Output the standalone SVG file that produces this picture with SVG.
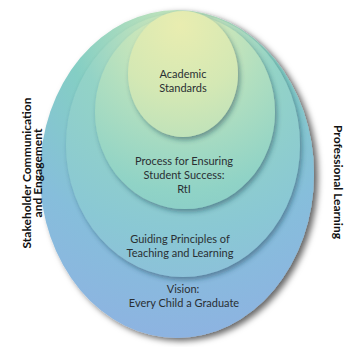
<svg xmlns="http://www.w3.org/2000/svg" width="353" height="347" viewBox="0 0 353 347">
  <defs>
    <radialGradient id="gVision" gradientUnits="userSpaceOnUse" cx="178" cy="40" r="310" fx="178" fy="30">
      <stop offset="0" stop-color="#c9e6b8"/>
      <stop offset="0.35" stop-color="#84cec4"/>
      <stop offset="0.65" stop-color="#86bedb"/>
      <stop offset="1" stop-color="#8eb2e2"/>
    </radialGradient>
    <radialGradient id="gGuiding" gradientUnits="userSpaceOnUse" cx="180" cy="35" r="250" fx="180" fy="28">
      <stop offset="0" stop-color="#d4e9b6"/>
      <stop offset="0.4" stop-color="#93d3c6"/>
      <stop offset="0.8" stop-color="#8ac8d4"/>
      <stop offset="1" stop-color="#8cc0da"/>
    </radialGradient>
    <radialGradient id="gProcess" gradientUnits="userSpaceOnUse" cx="182" cy="35" r="185" fx="182" fy="28">
      <stop offset="0" stop-color="#e0ecb4"/>
      <stop offset="0.45" stop-color="#b2dfbf"/>
      <stop offset="0.85" stop-color="#90d3c6"/>
      <stop offset="1" stop-color="#8acdc8"/>
    </radialGradient>
    <radialGradient id="gAcademic" gradientUnits="userSpaceOnUse" cx="180" cy="30" r="110" fx="180" fy="25">
      <stop offset="0" stop-color="#e9edb0"/>
      <stop offset="0.6" stop-color="#d4e8b4"/>
      <stop offset="1" stop-color="#bfe2ba"/>
    </radialGradient>
    <filter id="shOuter" x="-20%" y="-20%" width="140%" height="140%">
      <feDropShadow dx="4" dy="3" stdDeviation="3" flood-color="#000" flood-opacity="0.6"/>
    </filter>
    <filter id="shInner" x="-20%" y="-20%" width="140%" height="140%">
      <feDropShadow dx="2" dy="3" stdDeviation="2.5" flood-color="#163e4e" flood-opacity="0.45"/>
    </filter>
  </defs>
  <style>
    .lbl { font-family: "Lato", "Open Sans", "Liberation Sans", sans-serif; font-size: 11px; fill: #2a2f33; text-anchor: middle; }
    .side { font-family: "Lato", "Liberation Sans", sans-serif; font-size: 12px; font-weight: bold; fill: #111; text-anchor: middle; }
  </style>
  <rect width="353" height="347" fill="#ffffff"/>

  <g id="vision">
    <ellipse cx="177" cy="174" rx="137" ry="164" fill="url(#gVision)" filter="url(#shOuter)"/>
    <text class="lbl" x="183" y="293">Vision:</text>
    <text class="lbl" x="184" y="307">Every Child a Graduate</text>
  </g>

  <g id="guiding">
    <ellipse cx="183" cy="145" rx="117" ry="132" fill="url(#gGuiding)" filter="url(#shInner)"/>
    <text class="lbl" x="180" y="243">Guiding Principles of</text>
    <text class="lbl" x="180" y="257">Teaching and Learning</text>
  </g>

  <g id="process">
    <ellipse cx="185" cy="112" rx="90" ry="97" fill="url(#gProcess)" filter="url(#shInner)"/>
    <text class="lbl" x="184" y="165">Process for Ensuring</text>
    <text class="lbl" x="184" y="179">Student Success:</text>
    <text class="lbl" x="184" y="193">RtI</text>
  </g>

  <g id="academic">
    <ellipse cx="183" cy="74" rx="55" ry="63" fill="url(#gAcademic)" filter="url(#shInner)"/>
    <text class="lbl" x="183" y="78">Academic</text>
    <text class="lbl" x="183" y="92">Standards</text>
  </g>

  <g id="stakeholder">
    <text class="side" transform="translate(31,173) rotate(-90)" x="0" y="0">Stakeholder Communication</text>
    <text class="side" transform="translate(42,173) rotate(-90)" x="0" y="0">and Engagement</text>
  </g>

  <g id="professional">
    <text class="side" transform="translate(334,182) rotate(90)" x="0" y="0">Professional Learning</text>
  </g>

  <g id="connectors"></g>
</svg>
